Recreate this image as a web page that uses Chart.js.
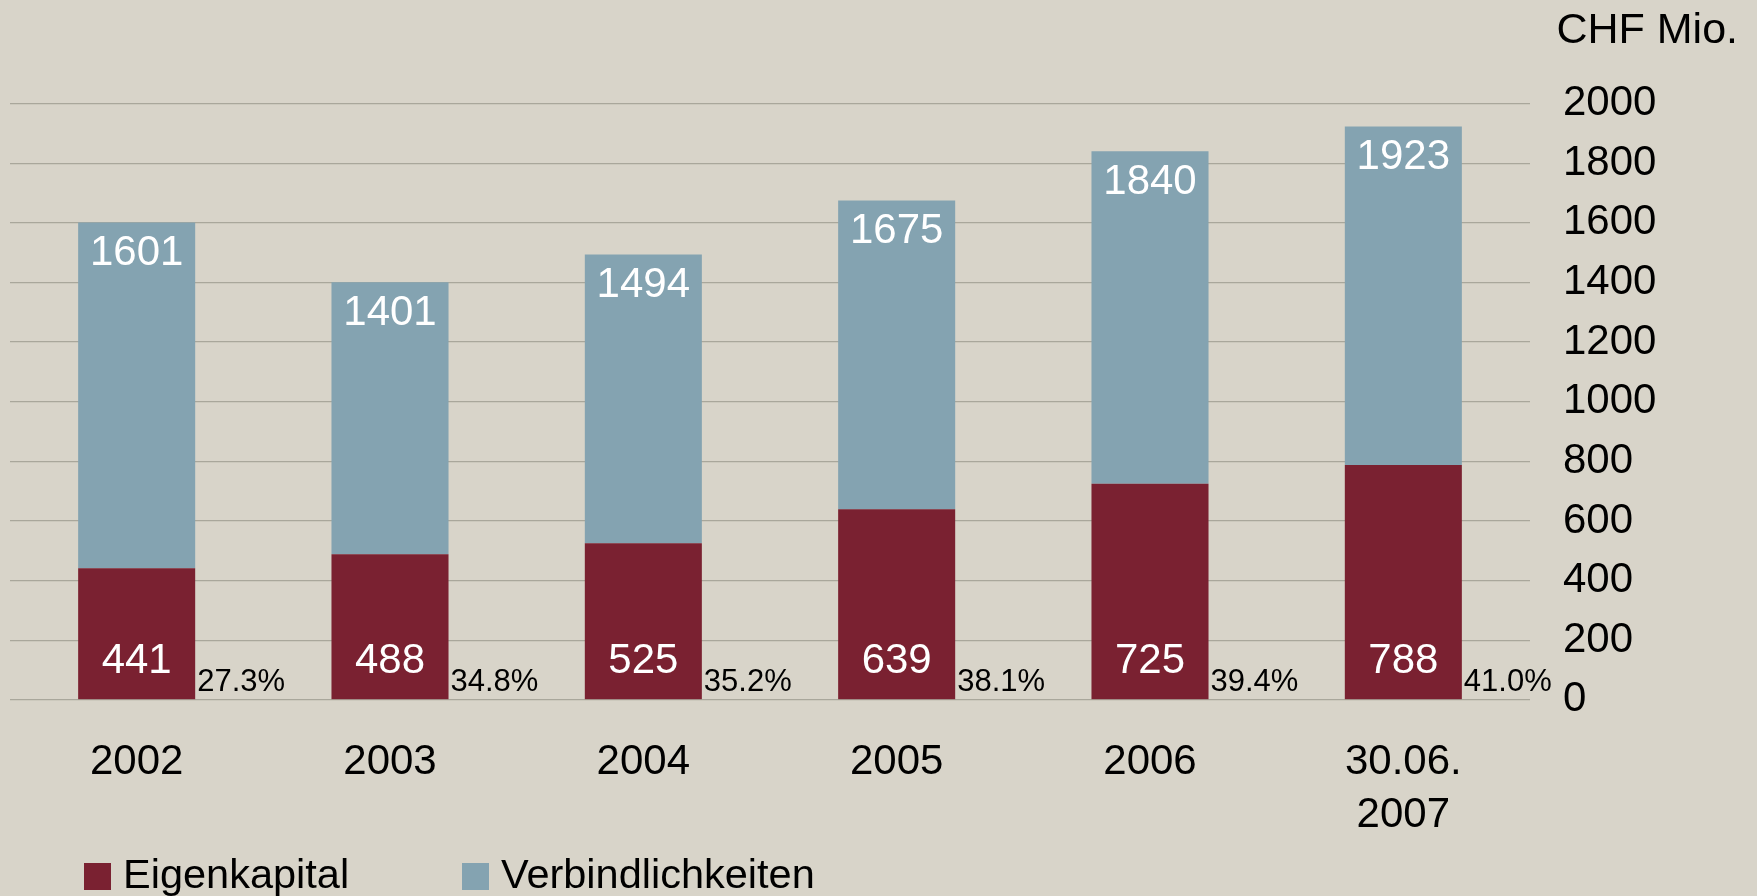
<!DOCTYPE html>
<html>
<head>
<meta charset="utf-8">
<title>Eigenkapital und Verbindlichkeiten</title>
<script src="https://cdn.jsdelivr.net/npm/chart.js@4.4.1/dist/chart.umd.min.js"></script>
<style>
    html, body {
        margin: 0;
        padding: 0;
        background: #d8d4c9;
    }
    #chart-container {
        position: relative;
        width: 1757px;
        height: 896px;
    }
    #legend {
        position: absolute;
        left: 0;
        top: 851px;
        height: 46px;
        font-family: "Liberation Sans", Arial, sans-serif;
        font-size: 41.5px;
        line-height: 46px;
        color: #000;
    }
    #legend span.item {
        position: absolute;
        top: 0;
        white-space: nowrap;
    }
    #legend span.box {
        display: inline-block;
        width: 27px;
        height: 27px;
        margin-right: 12px;
        vertical-align: -2px;
    }
</style>
</head>
<body>
<div id="chart-container">
    <canvas id="bar-chart"></canvas>
    <div id="legend"></div>
</div>
<script>
const CATEGORIES = ["2002", "2003", "2004", "2005", "2006", ["30.06.", "2007"]];
const EQUITY = [441, 488, 525, 639, 725, 788];
const TOTAL = [1601, 1401, 1494, 1675, 1840, 1923];
const EQUITY_SHARE = [27.3, 34.8, 35.2, 38.1, 39.4, 41.0];
const SERIES_NAMES = ["Eigenkapital", "Verbindlichkeiten"];

const FONT = "'Liberation Sans', Arial, sans-serif";
const FONTCOLOR = "#000000";
const COLORS = ["#7a2131", "#84a3b1"];
const GRIDCOLOR = "#a9a79b";
const LEGEND_LEFT = [84, 462];

// liabilities are the part of the total above the equity
const LIABILITIES = TOTAL.map((total, i) => total - EQUITY[i]);

const valueLabels = {
    id: "valueLabels",
    afterDatasetsDraw(chart) {
        const ctx = chart.ctx;
        const equityBars = chart.getDatasetMeta(0).data;
        const liabilityBars = chart.getDatasetMeta(1).data;
        const base = chart.scales.y.getPixelForValue(0);
        ctx.save();
        ctx.textBaseline = "middle";
        equityBars.forEach((bar, i) => {
            ctx.font = "42px " + FONT;
            ctx.fillStyle = "#ffffff";
            ctx.textAlign = "center";
            ctx.fillText(String(EQUITY[i]), bar.x, base - 38);
            ctx.fillText(String(TOTAL[i]), bar.x, liabilityBars[i].y + 31);

            ctx.font = "31px " + FONT;
            ctx.fillStyle = FONTCOLOR;
            ctx.textAlign = "left";
            ctx.fillText(EQUITY_SHARE[i].toFixed(1) + "%", bar.x + bar.width / 2 + 2, base - 17);
        });
        ctx.restore();
    }
};

function makeBarChart() {
    const ctx = document.querySelector("#bar-chart").getContext("2d");
    const configuration = {
        type: "bar",
        data: {
            labels: CATEGORIES,
            datasets: [{
                label: SERIES_NAMES[0],
                data: EQUITY,
                backgroundColor: COLORS[0]
            }, {
                label: SERIES_NAMES[1],
                data: LIABILITIES,
                backgroundColor: COLORS[1]
            }]
        },
        options: {
            responsive: true,
            maintainAspectRatio: false,
            animation: false,
            layout: {
                padding: {left: 10, right: 19, top: 0, bottom: 18}
            },
            datasets: {
                bar: {
                    categoryPercentage: 0.462,
                    barPercentage: 1,
                    borderWidth: 0
                }
            },
            scales: {
                x: {
                    stacked: true,
                    grid: {display: false, drawTicks: false},
                    border: {display: false},
                    ticks: {
                        color: FONTCOLOR,
                        padding: 37,
                        maxRotation: 0,
                        font: {family: FONT, size: 42, lineHeight: 1.24}
                    }
                },
                y: {
                    stacked: true,
                    position: "right",
                    min: 0,
                    max: 2000,
                    grid: {color: GRIDCOLOR, lineWidth: 1.2, drawTicks: false},
                    border: {display: false},
                    ticks: {
                        stepSize: 200,
                        color: FONTCOLOR,
                        padding: 33,
                        crossAlign: "near",
                        font: {family: FONT, size: 42},
                        callback: value => String(value)
                    },
                    afterFit(scale) {
                        scale.width = 208;
                    }
                }
            },
            plugins: {
                legend: {display: false},
                tooltip: {enabled: false},
                title: {
                    display: true,
                    text: "CHF Mio.",
                    align: "end",
                    color: FONTCOLOR,
                    font: {family: FONT, size: 43, weight: "normal", lineHeight: 1.2},
                    padding: {top: 5, bottom: 47}
                }
            }
        },
        plugins: [valueLabels]
    };
    return new Chart(ctx, configuration);
}

function makeLegend(chart) {
    const $target = document.querySelector("#legend");
    let html = "";
    chart.data.datasets.forEach((dataset, i) => {
        html += `<span class="item" style="left:${LEGEND_LEFT[i]}px">` +
            `<span class="box" style="background:${dataset.backgroundColor}"></span>${dataset.label}</span>`;
    });
    $target.innerHTML = html;
}

const chart = makeBarChart();
makeLegend(chart);
</script>
</body>
</html>
